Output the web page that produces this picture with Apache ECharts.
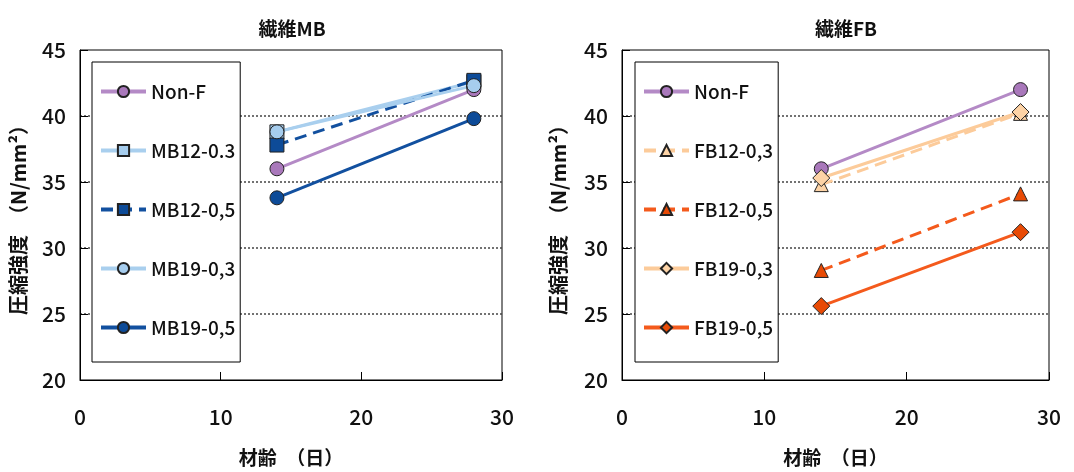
<!DOCTYPE html>
<html>
<head>
<meta charset="utf-8">
<script src="https://cdn.jsdelivr.net/npm/echarts@6/dist/echarts.min.js"></script>
<style>
  html, body { margin: 0; padding: 0; background: #fff; }
  #wrap { width: 1074px; height: 472px; display: flex; }
  #main1 { width: 537px; height: 472px; }
  #main2 { width: 537px; height: 472px; }
</style>
</head>
<body>
<div id="wrap">
  <div id="main1"></div>
  <div id="main2"></div>
</div>
<script>
var AGES = [14, 28];

var NON_F = [36.0, 42.0];
var MB12_03 = [38.8, 42.6];
var MB12_05 = [37.8, 42.7];
var MB19_03 = [38.8, 42.3];
var MB19_05 = [33.8, 39.8];

var FB12_03 = [34.8, 40.2];
var FB12_05 = [28.3, 34.1];
var FB19_03 = [35.3, 40.3];
var FB19_05 = [25.6, 31.2];

var Y_TICKS = [20, 25, 30, 35, 40, 45];
var X_TICKS = [0, 10, 20, 30];

var FONT = "'Noto Sans CJK JP', sans-serif";
var INK = "#111";

function pairs(vals) {
  return AGES.map(function (a, i) {
    return [a, vals[i]];
  });
}

function line(name, vals, color, fill, symbol, dashed) {
  return {
    name: name,
    type: "line",
    data: pairs(vals),
    symbol: symbol,
    symbolSize: symbol === "diamond" ? 17 : 14,
    lineStyle: { color: color, width: 3, type: dashed ? [12, 7] : "solid" },
    itemStyle: { color: fill, borderColor: "#222", borderWidth: 1 },
    emphasis: { disabled: true },
    animation: false,
  };
}

function makeOption(cfg) {
  return {
    animation: false,
    title: {
      text: cfg.title,
      left: cfg.titleX,
      top: 14,
      textAlign: "center",
      textStyle: { fontFamily: FONT, fontSize: 19, fontWeight: "bold", color: INK },
    },
    grid: {
      left: cfg.gridLeft,
      right: cfg.gridRight,
      top: 50,
      bottom: 92,
      show: true,
      borderColor: "#000",
      borderWidth: 1,
    },
    legend: {
      orient: "vertical",
      left: cfg.legendLeft,
      top: 62,
      data: cfg.series.map(function (s) {
        return s.name;
      }),
      itemWidth: 45,
      itemHeight: 14,
      itemGap: 40,
      padding: [20, 5, 25, 7],
      backgroundColor: "#fff",
      borderColor: "#000",
      borderWidth: 1,
      selectedMode: false,
      lineStyle: { width: 4 },
      textStyle: { fontFamily: FONT, fontSize: 19, fontWeight: 500, color: INK },
    },
    xAxis: {
      type: "value",
      min: 0,
      max: 30,
      interval: 10,
      name: "材齢　（日）",
      nameLocation: "middle",
      nameGap: 68,
      nameTextStyle: { fontFamily: FONT, fontSize: 19, fontWeight: "bold", color: INK },
      axisLine: { show: true, lineStyle: { color: "#000", width: 1 } },
      axisTick: { show: true, inside: true, length: 8, lineStyle: { color: "#000" } },
      axisLabel: {
        margin: 27,
        fontFamily: FONT,
        fontSize: 21,
        fontWeight: 500,
        color: INK,
        formatter: function (v) {
          return X_TICKS.indexOf(v) >= 0 ? String(v) : "";
        },
      },
      splitLine: { show: false },
    },
    yAxis: {
      type: "value",
      min: 20,
      max: 45,
      interval: 5,
      name: "圧縮強度　（N/mm²）",
      nameLocation: "middle",
      nameRotate: 90,
      nameGap: cfg.yNameGap,
      nameTextStyle: { fontFamily: FONT, fontSize: 20, fontWeight: "bold", color: INK },
      axisLine: { show: true, lineStyle: { color: "#000", width: 1 } },
      axisTick: { show: true, inside: true, length: 8, lineStyle: { color: "#000" } },
      axisLabel: {
        margin: 14,
        fontFamily: FONT,
        fontSize: 21,
        fontWeight: 500,
        color: INK,
        formatter: function (v) {
          return Y_TICKS.indexOf(v) >= 0 ? String(v) : "";
        },
      },
      splitLine: {
        show: true,
        showMinLine: false,
        showMaxLine: false,
        lineStyle: { color: "#444", type: [2, 2], width: 1.5 },
      },
    },
    series: cfg.series,
  };
}

var PURPLE_L = "#b48ac6", PURPLE_F = "#a978bb";
var LBLUE_L = "#a9cfee", LBLUE_F = "#a6cdee";
var DBLUE_L = "#12509f", DBLUE_F = "#0d4b98";
var PEACH_L = "#fccb9a", PEACH_F = "#fdd3a6";
var ORANGE_L = "#f45a1c", ORANGE_F = "#e84a05";

var myChart1 = echarts.init(document.getElementById("main1"));
var myChart2 = echarts.init(document.getElementById("main2"));

myChart1.setOption(
  makeOption({
    title: "繊維MB",
    titleX: 287,
    gridLeft: 78,
    gridRight: 35,
    legendLeft: 92,
    yNameGap: 52,
    series: [
      line("Non-F", NON_F, PURPLE_L, PURPLE_F, "circle", false),
      line("MB12-0.3", MB12_03, LBLUE_L, LBLUE_F, "rect", false),
      line("MB12-0,5", MB12_05, DBLUE_L, DBLUE_F, "rect", true),
      line("MB19-0,3", MB19_03, LBLUE_L, LBLUE_F, "circle", false),
      line("MB19-0,5", MB19_05, DBLUE_L, DBLUE_F, "circle", false),
    ],
  })
);

myChart2.setOption(
  makeOption({
    title: "繊維FB",
    titleX: 304,
    gridLeft: 85,
    gridRight: 25,
    legendLeft: 98,
    yNameGap: 54,
    series: [
      line("Non-F", NON_F, PURPLE_L, PURPLE_F, "circle", false),
      line("FB12-0,3", FB12_03, PEACH_L, PEACH_F, "triangle", true),
      line("FB12-0,5", FB12_05, ORANGE_L, ORANGE_F, "triangle", true),
      line("FB19-0,3", FB19_03, PEACH_L, PEACH_F, "diamond", false),
      line("FB19-0,5", FB19_05, ORANGE_L, ORANGE_F, "diamond", false),
    ],
  })
);
</script>
</body>
</html>
